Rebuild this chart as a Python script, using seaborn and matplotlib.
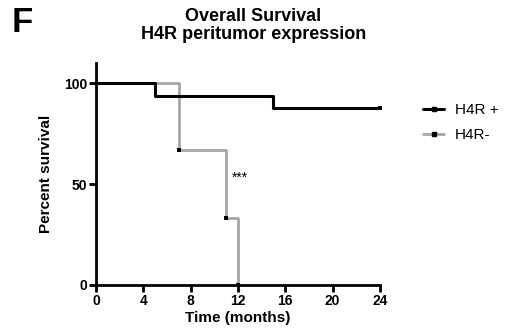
import matplotlib
matplotlib.use("Agg")
import matplotlib.pyplot as plt
import seaborn as sns
import pandas as pd
from matplotlib.lines import Line2D

sns.set_theme(style="ticks")
plt.rcParams['font.family'] = ['Liberation Sans', 'DejaVu Sans']
for k in ["text.color", "axes.labelcolor", "xtick.color", "ytick.color", "axes.edgecolor"]:
    plt.rcParams[k] = "black"

# Data
pos_time = [0, 5, 15, 24]
pos_surv = [100, 93.75, 87.5, 87.5]
neg_time = [0, 7, 11, 12]
neg_surv = [100, 66.7, 33.3, 0]
pos_censor_time = [24]
pos_censor_surv = [87.5]
neg_censor_time = [7, 11, 12]
neg_censor_surv = [66.7, 33.3, 0]
series_labels = ["H4R +", "H4R-"]
x_ticks = [0, 4, 8, 12, 16, 20, 24]
y_ticks = [0, 50, 100]

df = pd.concat([
    pd.DataFrame({"time": pos_time, "surv": pos_surv, "group": series_labels[0]}),
    pd.DataFrame({"time": neg_time, "surv": neg_surv, "group": series_labels[1]}),
])

fig = plt.figure(figsize=(5.07, 3.35), dpi=100)
ax = fig.add_axes([0.1893, 0.1493, 0.5602, 0.6627])

palette = {series_labels[0]: "black", series_labels[1]: "#a6a6a6"}
sns.lineplot(data=df[df.group == series_labels[1]], x="time", y="surv", hue="group",
             palette=palette, drawstyle="steps-post", linewidth=2.0, ax=ax,
             legend=False, zorder=2)
sns.lineplot(data=df[df.group == series_labels[0]], x="time", y="surv", hue="group",
             palette=palette, drawstyle="steps-post", linewidth=2.2, ax=ax,
             legend=False, zorder=3)
sns.scatterplot(x=neg_censor_time, y=neg_censor_surv, color="black", marker="s", s=6,
                linewidth=0, ax=ax, zorder=4)
sns.scatterplot(x=pos_censor_time, y=pos_censor_surv, color="black", marker="s", s=6,
                linewidth=0, ax=ax, zorder=4, clip_on=False)

ax.text(11.5, 53, "***", fontsize=10, ha="left", va="center")

ax.set_xlim(0, 24)
ax.set_ylim(0, 110)
ax.set_xticks(x_ticks)
ax.set_yticks(y_ticks)
ax.set_xticklabels([str(t) for t in x_ticks], fontsize=10, fontweight="bold")
ax.set_yticklabels([str(t) for t in y_ticks], fontsize=10, fontweight="bold")
ax.tick_params(axis="both", width=2, length=5, pad=1.5, color="black")
for s in ["left", "bottom"]:
    ax.spines[s].set_linewidth(2)
sns.despine(ax=ax)
ax.set_xlabel("Time (months)", fontsize=11, fontweight="bold", labelpad=2)
ax.set_ylabel("Percent survival", fontsize=11, fontweight="bold", labelpad=8)

handles = [
    Line2D([0], [0], color="black", lw=2.2, marker="s", markersize=2.5,
           markerfacecolor="black", markeredgecolor="black"),
    Line2D([0], [0], color="#a6a6a6", lw=2.0, marker="s", markersize=2.5,
           markerfacecolor="black", markeredgecolor="black"),
]
fig.legend(handles, series_labels, loc="upper left", bbox_to_anchor=(423 / 507, 1 - 103 / 335),
           frameon=False, fontsize=11, handlelength=1.4, handletextpad=0.7,
           labelspacing=0.75, borderpad=0, borderaxespad=0)

fig.text(0.5, 1 - 8 / 335, "Overall Survival\nH4R peritumor expression", ha="center", va="top",
         fontsize=13, fontweight="bold", linespacing=1.1)
fig.text(12 / 507, 1 - 6 / 335, "F", ha="left", va="top", fontsize=25, fontweight="bold")

fig.savefig("out.png", dpi=100)
